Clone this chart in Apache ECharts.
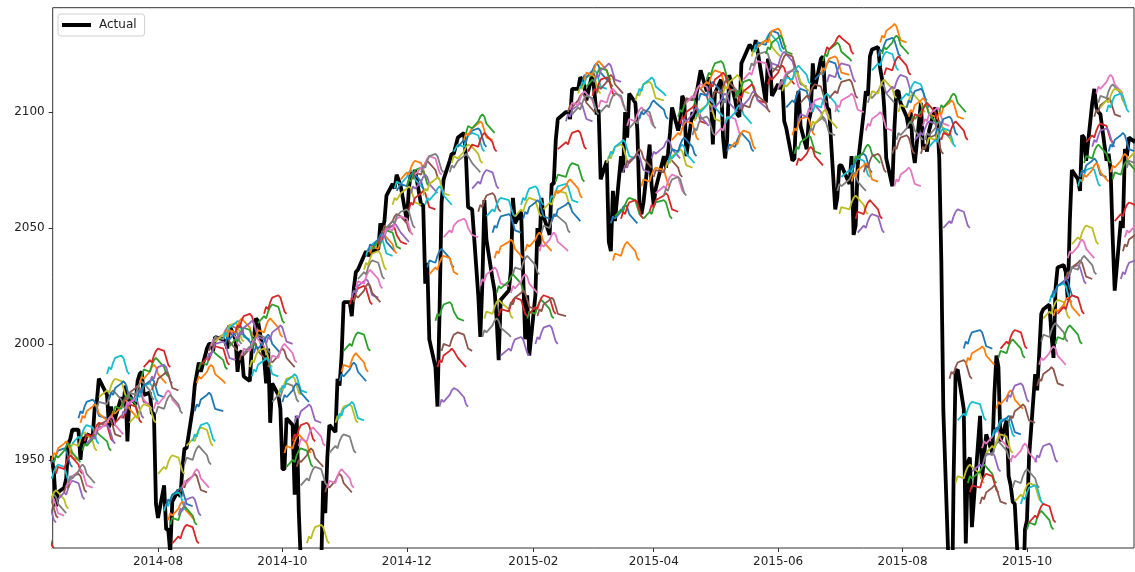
<!DOCTYPE html>
<html>
<head>
<meta charset="utf-8">
<script src="https://cdn.jsdelivr.net/npm/echarts@6/dist/echarts.min.js"></script>
<style>
  html, body { margin: 0; padding: 0; background: #fff; }
  #chart { width: 1135px; height: 572px; }
</style>
</head>
<body>
<div id="chart"></div>
<script>
// Trading days per month (day of month), in order
const tradingDays = {
  '2014-05': [23,27,28,29,30],
  '2014-06': [2,3,4,5,6,9,10,11,12,13,16,17,18,19,20,23,24,25,26,27,30],
  '2014-07': [1,2,3,7,8,9,10,11,14,15,16,17,18,21,22,23,24,25,28,29,30,31],
  '2014-08': [1,4,5,6,7,8,11,12,13,14,15,18,19,20,21,22,25,26,27,28,29],
  '2014-09': [2,3,4,5,8,9,10,11,12,15,16,17,18,19,22,23,24,25,26,29,30],
  '2014-10': [1,2,3,6,7,8,9,10,13,14,15,16,17,20,21,22,23,24,27,28,29,30,31],
  '2014-11': [3,4,5,6,7,10,11,12,13,14,17,18,19,20,21,24,25,26,28],
  '2014-12': [1,2,3,4,5,8,9,10,11,12,15,16,17,18,19,22,23,24,26,29,30,31],
  '2015-01': [2,5,6,7,8,9,12,13,14,15,16,20,21,22,23,26,27,28,29,30],
  '2015-02': [2,3,4,5,6,9,10,11,12,13,17,18,19,20,23,24,25,26,27],
  '2015-03': [2,3,4,5,6,9,10,11,12,13,16,17,18,19,20,23,24,25,26,27,30,31],
  '2015-04': [1,2,6,7,8,9,10,13,14,15,16,17,20,21,22,23,24,27,28,29,30],
  '2015-05': [1,4,5,6,7,8,11,12,13,14,15,18,19,20,21,22,26,27,28,29],
  '2015-06': [1,2,3,4,5,8,9,10,11,12,15,16,17,18,19,22,23,24,25,26,29,30],
  '2015-07': [1,2,6,7,8,9,10,13,14,15,16,17,20,21,22,23,24,27,28,29,30,31],
  '2015-08': [3,4,5,6,7,10,11,12,13,14,17,18,19,20,21,24,25,26,27,28,31],
  '2015-09': [1,2,3,4,8,9,10,11,14,15,16,17,18,21,22,23,24,25,28,29,30],
  '2015-10': [1,2,5,6,7,8,9,12,13,14,15,16,19,20,21,22,23,26,27,28,29,30],
  '2015-11': [2,3,4,5,6,9,10,11,12,13,16,17,18,19,20,23,24,25,27,30],
  '2015-12': [1,2,3,4,7,8]
};

// Actual closing level, one value per trading day above
const actualClose = [
  1901,1912,1910,1920,1924,
  1925,1924,1928,1940,1949,1951,1951,1944,1930,1936,1938,1942,1957,1959,1963,1963,1950,1960,1957,1961,1960,
  1973,1975,1985,1978,1964,1973,1965,1968,1977,1973,1982,1958,1978,1974,1984,1987,1988,1978,1979,1970,1970,1931,
  1925,1939,1920,1920,1910,1932,1937,1934,1947,1955,1955,1972,1982,1987,1992,1988,1998,2000,2000,1997,2003,
  2002,2001,1998,2008,2002,1988,1996,1997,1986,1984,1999,2002,2011,2010,1994,1983,1998,1966,1983,1978,1972,
  1946,1946,1968,1965,1935,1969,1928,1906,1875,1878,1862,1863,1887,1904,1941,1927,1951,1965,1962,1985,1982,1995,2018,
  2018,2012,2024,2031,2032,2038,2040,2038,2039,2040,2041,2052,2049,2053,2064,2069,2067,2073,2068,
  2053,2067,2074,2072,2075,2060,2060,2026,2035,2002,1990,1973,2013,2061,2071,2079,2082,2082,2089,2091,2080,2059,
  2058,2021,2003,2026,2062,2045,2028,2023,2011,1993,2019,2023,2032,2063,2052,2057,2030,2002,2021,1995,
  2021,2050,2042,2063,2055,2047,2069,2069,2088,2097,2100,2100,2097,2110,2110,2115,2114,2111,2105,
  2117,2108,2099,2101,2071,2079,2044,2040,2066,2053,2081,2074,2100,2089,2108,2104,2092,2061,2056,2061,2086,2068,
  2060,2067,2081,2076,2082,2091,2102,2092,2096,2107,2105,2081,2100,2097,2108,2113,2118,2109,2115,2107,2086,
  2108,2114,2089,2080,2088,2116,2105,2099,2098,2121,2123,2129,2128,2126,2131,2126,2104,2123,2121,2107,
  2112,2110,2114,2096,2093,2079,2080,2105,2109,2094,2084,2096,2100,2121,2110,2123,2124,2109,2102,2101,2058,2063,
  2077,2077,2069,2081,2047,2051,2077,2100,2109,2107,2124,2127,2128,2119,2114,2102,2080,2068,2093,2109,2109,2104,
  2098,2093,2100,2084,2078,2104,2084,2086,2083,2092,2102,2097,2080,2036,1971,1893,1868,1941,1988,1989,1972,
  1914,1949,1951,1921,1969,1942,1952,1961,1953,1978,1995,1990,1958,1967,1943,1939,1932,1931,1882,1884,1920,
  1924,1951,1987,1980,1996,2013,2015,2017,2004,1994,2024,2033,2034,2031,2019,2053,2075,2071,2066,2090,2089,2079,
  2104,2110,2102,2100,2099,2079,2082,2075,2046,2023,2053,2050,2084,2081,2089,2087,2089,2089,2090,2080,
  2103,2080,2050,2092,2077,2064
];

// Ten-day forecast paths; the k-th path starts on the k-th trading day
const forecasts = [
  // 2014-05
  [1893,1896,1895,1898,1900,1901,1900,1897,1894,1893],
  [1901,1904,1903,1906,1908,1909,1908,1905,1902,1901],
  [1911,1914,1913,1916,1918,1919,1918,1915,1912,1911],
  [1912,1915,1914,1917,1919,1920,1919,1916,1913,1912],
  [1923,1926,1925,1928,1930,1931,1930,1927,1924,1923],
  // 2014-06
  [1925,1928,1927,1930,1932,1933,1932,1929,1926,1925],
  [1926,1929,1928,1931,1933,1934,1933,1930,1927,1926],
  [1927,1930,1929,1932,1934,1935,1934,1931,1928,1927],
  [1929,1932,1931,1934,1936,1937,1936,1933,1930,1929],
  [1940,1943,1942,1945,1947,1948,1947,1944,1941,1940],
  [1947,1950,1949,1952,1954,1955,1954,1951,1948,1947],
  [1950,1953,1952,1955,1957,1958,1957,1954,1951,1950],
  [1949,1952,1951,1954,1956,1957,1956,1953,1950,1949],
  [1944,1947,1946,1949,1951,1952,1951,1948,1945,1944],
  [1933,1936,1935,1938,1940,1941,1940,1937,1934,1933],
  [1936,1939,1938,1941,1943,1944,1943,1940,1937,1936],
  [1938,1941,1940,1943,1945,1946,1945,1942,1939,1938],
  [1940,1943,1942,1945,1947,1948,1947,1944,1941,1940],
  [1954,1957,1956,1959,1961,1962,1961,1958,1955,1954],
  [1957,1960,1959,1962,1964,1965,1964,1961,1958,1957],
  [1968,1971,1970,1973,1975,1976,1975,1972,1969,1968],
  [1966,1969,1968,1971,1973,1974,1973,1970,1967,1966],
  [1954,1957,1956,1959,1961,1962,1961,1958,1955,1954],
  [1958,1961,1960,1963,1965,1966,1965,1962,1959,1958],
  [1957,1960,1959,1962,1964,1965,1964,1961,1958,1957],
  [1960,1963,1962,1965,1967,1968,1967,1964,1961,1960],
  // 2014-07
  [1961,1964,1963,1966,1968,1969,1968,1965,1962,1961],
  [1972,1975,1974,1977,1979,1980,1979,1976,1973,1972],
  [1977,1980,1979,1982,1984,1985,1984,1981,1978,1977],
  [1987,1990,1989,1992,1994,1995,1994,1991,1988,1987],
  [1976,1979,1978,1981,1983,1984,1983,1980,1977,1976],
  [1968,1971,1970,1973,1975,1976,1975,1972,1969,1968],
  [1970,1973,1972,1975,1977,1978,1977,1974,1971,1970],
  [1966,1969,1968,1971,1973,1974,1973,1970,1967,1966],
  [1968,1971,1970,1973,1975,1976,1975,1972,1969,1968],
  [1974,1977,1976,1979,1981,1982,1981,1978,1975,1974],
  [1972,1975,1974,1977,1979,1980,1979,1976,1973,1972],
  [1976,1979,1978,1981,1983,1984,1983,1980,1977,1976],
  [1966,1969,1968,1971,1973,1974,1973,1970,1967,1966],
  [1975,1978,1977,1980,1982,1983,1982,1979,1976,1975],
  [1977,1980,1979,1982,1984,1985,1984,1981,1978,1977],
  [1983,1986,1985,1988,1990,1991,1990,1987,1984,1983],
  [1986,1989,1988,1991,1993,1994,1993,1990,1987,1986],
  [1990,1993,1992,1995,1997,1998,1997,1994,1991,1990],
  [1983,1986,1985,1988,1990,1991,1990,1987,1984,1983],
  [1980,1983,1982,1985,1987,1988,1987,1984,1981,1980],
  [1972,1975,1974,1977,1979,1980,1979,1976,1973,1972],
  [1970,1973,1972,1975,1977,1978,1977,1974,1971,1970],
  // 2014-08
  [1944,1947,1946,1949,1951,1952,1951,1948,1945,1944],
  [1928,1931,1930,1933,1935,1936,1935,1932,1929,1928],
  [1930,1933,1932,1935,1937,1938,1937,1934,1931,1930],
  [1924,1927,1926,1929,1931,1932,1931,1928,1925,1924],
  [1922,1925,1924,1927,1929,1930,1929,1926,1923,1922],
  [1914,1917,1916,1919,1921,1922,1921,1918,1915,1914],
  [1926,1929,1928,1931,1933,1934,1933,1930,1927,1926],
  [1936,1939,1938,1941,1943,1944,1943,1940,1937,1936],
  [1938,1941,1940,1943,1945,1946,1945,1942,1939,1938],
  [1948,1951,1950,1953,1955,1956,1955,1952,1949,1948],
  [1956,1959,1958,1961,1963,1964,1963,1960,1957,1956],
  [1958,1961,1960,1963,1965,1966,1965,1962,1959,1958],
  [1971,1974,1973,1976,1978,1979,1978,1975,1972,1971],
  [1983,1986,1985,1988,1990,1991,1990,1987,1984,1983],
  [1989,1992,1991,1994,1996,1997,1996,1993,1990,1989],
  [1991,1994,1993,1996,1998,1999,1998,1995,1992,1991],
  [1993,1996,1995,1998,2000,2001,2000,1997,1994,1993],
  [1997,2000,1999,2002,2004,2005,2004,2001,1998,1997],
  [1999,2002,2001,2004,2006,2007,2006,2003,2000,1999],
  [2000,2003,2002,2005,2007,2008,2007,2004,2001,2000],
  [2001,2004,2003,2006,2008,2009,2008,2005,2002,2001],
  // 2014-09
  [2002,2005,2004,2007,2009,2010,2009,2006,2003,2002],
  [2000,2003,2002,2005,2007,2008,2007,2004,2001,2000],
  [2003,2006,2005,2008,2010,2011,2010,2007,2004,2003],
  [1999,2002,2001,2004,2006,2007,2006,2003,2000,1999],
  [2005,2008,2007,2010,2012,2013,2012,2009,2006,2005],
  [2002,2005,2004,2007,2009,2010,2009,2006,2003,2002],
  [1993,1996,1995,1998,2000,2001,2000,1997,1994,1993],
  [1995,1998,1997,2000,2002,2003,2002,1999,1996,1995],
  [1996,1999,1998,2001,2003,2004,2003,2000,1997,1996],
  [1990,1993,1992,1995,1997,1998,1997,1994,1991,1990],
  [1986,1989,1988,1991,1993,1994,1993,1990,1987,1986],
  [1996,1999,1998,2001,2003,2004,2003,2000,1997,1996],
  [2003,2006,2005,2008,2010,2011,2010,2007,2004,2003],
  [2009,2012,2011,2014,2016,2017,2016,2013,2010,2009],
  [2013,2016,2015,2018,2020,2021,2020,2017,2014,2013],
  [2000,2003,2002,2005,2007,2008,2007,2004,2001,2000],
  [1990,1993,1992,1995,1997,1998,1997,1994,1991,1990],
  [1992,1995,1994,1997,1999,2000,1999,1996,1993,1992],
  [1975,1978,1977,1980,1982,1983,1982,1979,1976,1975],
  [1978,1981,1980,1983,1985,1986,1985,1982,1979,1978],
  [1979,1982,1981,1984,1986,1987,1986,1983,1980,1979],
  // 2014-10
  [1975,1978,1977,1980,1982,1983,1982,1979,1976,1975],
  [1953,1956,1955,1958,1960,1961,1960,1957,1954,1953],
  [1947,1950,1949,1952,1954,1955,1954,1951,1948,1947],
  [1958,1961,1960,1963,1965,1966,1965,1962,1959,1958],
  [1966,1969,1968,1971,1973,1974,1973,1970,1967,1966],
  [1947,1950,1949,1952,1954,1955,1954,1951,1948,1947],
  [1956,1959,1958,1961,1963,1964,1963,1960,1957,1956],
  [1939,1942,1941,1944,1946,1947,1946,1943,1940,1939],
  [1914,1917,1916,1919,1921,1922,1921,1918,1915,1914],
  [1888,1891,1890,1893,1895,1896,1895,1892,1889,1888],
  [1880,1883,1882,1885,1887,1888,1887,1884,1881,1880],
  [1870,1873,1872,1875,1877,1878,1877,1874,1871,1870],
  [1866,1869,1868,1871,1873,1874,1873,1870,1867,1866],
  [1880,1883,1882,1885,1887,1888,1887,1884,1881,1880],
  [1898,1901,1900,1903,1905,1906,1905,1902,1899,1898],
  [1936,1939,1938,1941,1943,1944,1943,1940,1937,1936],
  [1938,1941,1940,1943,1945,1946,1945,1942,1939,1938],
  [1953,1956,1955,1958,1960,1961,1960,1957,1954,1953],
  [1966,1969,1968,1971,1973,1974,1973,1970,1967,1966],
  [1967,1970,1969,1972,1974,1975,1974,1971,1968,1967],
  [1984,1987,1986,1989,1991,1992,1991,1988,1985,1984],
  [1988,1991,1990,1993,1995,1996,1995,1992,1989,1988],
  [1997,2000,1999,2002,2004,2005,2004,2001,1998,1997],
  // 2014-11
  [2017,2020,2019,2022,2024,2025,2024,2021,2018,2017],
  [2020,2023,2022,2025,2027,2028,2027,2024,2021,2020],
  [2018,2021,2020,2023,2025,2026,2025,2022,2019,2018],
  [2024,2027,2026,2029,2031,2032,2031,2028,2025,2024],
  [2028,2031,2030,2033,2035,2036,2035,2032,2029,2028],
  [2032,2035,2034,2037,2039,2040,2039,2036,2033,2032],
  [2038,2041,2040,2043,2045,2046,2045,2042,2039,2038],
  [2040,2043,2042,2045,2047,2048,2047,2044,2041,2040],
  [2039,2042,2041,2044,2046,2047,2046,2043,2040,2039],
  [2041,2044,2043,2046,2048,2049,2048,2045,2042,2041],
  [2043,2046,2045,2048,2050,2051,2050,2047,2044,2043],
  [2044,2047,2046,2049,2051,2052,2051,2048,2045,2044],
  [2048,2051,2050,2053,2055,2056,2055,2052,2049,2048],
  [2047,2050,2049,2052,2054,2055,2054,2051,2048,2047],
  [2050,2053,2052,2055,2057,2058,2057,2054,2051,2050],
  [2060,2063,2062,2065,2067,2068,2067,2064,2061,2060],
  [2067,2070,2069,2072,2074,2075,2074,2071,2068,2067],
  [2066,2069,2068,2071,2073,2074,2073,2070,2067,2066],
  [2071,2074,2073,2076,2078,2079,2078,2075,2072,2071],
  // 2014-12
  [2068,2071,2070,2073,2075,2076,2075,2072,2069,2068],
  [2058,2061,2060,2063,2065,2066,2065,2062,2059,2058],
  [2065,2068,2067,2070,2072,2073,2072,2069,2066,2065],
  [2071,2074,2073,2076,2078,2079,2078,2075,2072,2071],
  [2073,2076,2075,2078,2080,2081,2080,2077,2074,2073],
  [2074,2077,2076,2079,2081,2082,2081,2078,2075,2074],
  [2064,2067,2066,2069,2071,2072,2071,2068,2065,2064],
  [2060,2063,2062,2065,2067,2068,2067,2064,2061,2060],
  [2033,2036,2035,2038,2040,2041,2040,2037,2034,2033],
  [2030,2033,2032,2035,2037,2038,2037,2034,2031,2030],
  [2010,2013,2012,2015,2017,2018,2017,2014,2011,2010],
  [1990,1993,1992,1995,1997,1998,1997,1994,1991,1990],
  [1973,1976,1975,1978,1980,1981,1980,1977,1974,1973],
  [1997,2000,1999,2002,2004,2005,2004,2001,1998,1997],
  [2046,2049,2048,2051,2053,2054,2053,2050,2047,2046],
  [2074,2077,2076,2079,2081,2082,2081,2078,2075,2074],
  [2078,2081,2080,2083,2085,2086,2085,2082,2079,2078],
  [2083,2086,2085,2088,2090,2091,2090,2087,2084,2083],
  [2085,2088,2087,2090,2092,2093,2092,2089,2086,2085],
  [2088,2091,2090,2093,2095,2096,2095,2092,2089,2088],
  [2091,2094,2093,2096,2098,2099,2098,2095,2092,2091],
  [2083,2086,2085,2088,2090,2091,2090,2087,2084,2083],
  // 2015-01
  [2067,2070,2069,2072,2074,2075,2074,2071,2068,2067],
  [2057,2060,2059,2062,2064,2065,2064,2061,2058,2057],
  [2025,2028,2027,2030,2032,2033,2032,2029,2026,2025],
  [2003,2006,2005,2008,2010,2011,2010,2007,2004,2003],
  [2011,2014,2013,2016,2018,2019,2018,2015,2012,2011],
  [2055,2058,2057,2060,2062,2063,2062,2059,2056,2055],
  [2048,2051,2050,2053,2055,2056,2055,2052,2049,2048],
  [2037,2040,2039,2042,2044,2045,2044,2041,2038,2037],
  [2022,2025,2024,2027,2029,2030,2029,2026,2023,2022],
  [2012,2015,2014,2017,2019,2020,2019,2016,2013,2012],
  [1995,1998,1997,2000,2002,2003,2002,1999,1996,1995],
  [2015,2018,2017,2020,2022,2023,2022,2019,2016,2015],
  [2022,2025,2024,2027,2029,2030,2029,2026,2023,2022],
  [2030,2033,2032,2035,2037,2038,2037,2034,2031,2030],
  [2055,2058,2057,2060,2062,2063,2062,2059,2056,2055],
  [2060,2063,2062,2065,2067,2068,2067,2064,2061,2060],
  [2054,2057,2056,2059,2061,2062,2061,2058,2055,2054],
  [2040,2043,2042,2045,2047,2048,2047,2044,2041,2040],
  [2011,2014,2013,2016,2018,2019,2018,2015,2012,2011],
  [2013,2016,2015,2018,2020,2021,2020,2017,2014,2013],
  // 2015-02
  [2000,2003,2002,2005,2007,2008,2007,2004,2001,2000],
  [2012,2015,2014,2017,2019,2020,2019,2016,2013,2012],
  [2040,2043,2042,2045,2047,2048,2047,2044,2041,2040],
  [2048,2051,2050,2053,2055,2056,2055,2052,2049,2048],
  [2058,2061,2060,2063,2065,2066,2065,2062,2059,2058],
  [2061,2064,2063,2066,2068,2069,2068,2065,2062,2061],
  [2053,2056,2055,2058,2060,2061,2060,2057,2054,2053],
  [2063,2066,2065,2068,2070,2071,2070,2067,2064,2063],
  [2070,2073,2072,2075,2077,2078,2077,2074,2071,2070],
  [2084,2087,2086,2089,2091,2092,2091,2088,2085,2084],
  [2096,2099,2098,2101,2103,2104,2103,2100,2097,2096],
  [2100,2103,2102,2105,2107,2108,2107,2104,2101,2100],
  [2101,2104,2103,2106,2108,2109,2108,2105,2102,2101],
  [2099,2102,2101,2104,2106,2107,2106,2103,2100,2099],
  [2108,2111,2110,2113,2115,2116,2115,2112,2109,2108],
  [2110,2113,2112,2115,2117,2118,2117,2114,2111,2110],
  [2113,2116,2115,2118,2120,2121,2120,2117,2114,2113],
  [2114,2117,2116,2119,2121,2122,2121,2118,2115,2114],
  [2111,2114,2113,2116,2118,2119,2118,2115,2112,2111],
  // 2015-03
  [2107,2110,2109,2112,2114,2115,2114,2111,2108,2107],
  [2113,2116,2115,2118,2120,2121,2120,2117,2114,2113],
  [2108,2111,2110,2113,2115,2116,2115,2112,2109,2108],
  [2102,2105,2104,2107,2109,2110,2109,2106,2103,2102],
  [2100,2103,2102,2105,2107,2108,2107,2104,2101,2100],
  [2078,2081,2080,2083,2085,2086,2085,2082,2079,2078],
  [2080,2083,2082,2085,2087,2088,2087,2084,2081,2080],
  [2052,2055,2054,2057,2059,2060,2059,2056,2053,2052],
  [2036,2039,2038,2041,2043,2044,2043,2040,2037,2036],
  [2055,2058,2057,2060,2062,2063,2062,2059,2056,2055],
  [2054,2057,2056,2059,2061,2062,2061,2058,2055,2054],
  [2074,2077,2076,2079,2081,2082,2081,2078,2075,2074],
  [2076,2079,2078,2081,2083,2084,2083,2080,2077,2076],
  [2094,2097,2096,2099,2101,2102,2101,2098,2095,2094],
  [2093,2096,2095,2098,2100,2101,2100,2097,2094,2093],
  [2105,2108,2107,2110,2112,2113,2112,2109,2106,2105],
  [2107,2110,2109,2112,2114,2115,2114,2111,2108,2107],
  [2097,2100,2099,2102,2104,2105,2104,2101,2098,2097],
  [2068,2071,2070,2073,2075,2076,2075,2072,2069,2068],
  [2054,2057,2056,2059,2061,2062,2061,2058,2055,2054],
  [2057,2060,2059,2062,2064,2065,2064,2061,2058,2057],
  [2080,2083,2082,2085,2087,2088,2087,2084,2081,2080],
  // 2015-04
  [2072,2075,2074,2077,2079,2080,2079,2076,2073,2072],
  [2065,2068,2067,2070,2072,2073,2072,2069,2066,2065],
  [2064,2067,2066,2069,2071,2072,2071,2068,2065,2064],
  [2076,2079,2078,2081,2083,2084,2083,2080,2077,2076],
  [2078,2081,2080,2083,2085,2086,2085,2082,2079,2078],
  [2081,2084,2083,2086,2088,2089,2088,2085,2082,2081],
  [2088,2091,2090,2093,2095,2096,2095,2092,2089,2088],
  [2098,2101,2100,2103,2105,2106,2105,2102,2099,2098],
  [2095,2098,2097,2100,2102,2103,2102,2099,2096,2095],
  [2094,2097,2096,2099,2101,2102,2101,2098,2095,2094],
  [2103,2106,2105,2108,2110,2111,2110,2107,2104,2103],
  [2104,2107,2106,2109,2111,2112,2111,2108,2105,2104],
  [2090,2093,2092,2095,2097,2098,2097,2094,2091,2090],
  [2096,2099,2098,2101,2103,2104,2103,2100,2097,2096],
  [2098,2101,2100,2103,2105,2106,2105,2102,2099,2098],
  [2105,2108,2107,2110,2112,2113,2112,2109,2106,2105],
  [2110,2113,2112,2115,2117,2118,2117,2114,2111,2110],
  [2114,2117,2116,2119,2121,2122,2121,2118,2115,2114],
  [2109,2112,2111,2114,2116,2117,2116,2113,2110,2109],
  [2100,2103,2102,2105,2107,2108,2107,2104,2101,2100],
  [2106,2109,2108,2111,2113,2114,2113,2110,2107,2106],
  // 2015-05
  [2090,2093,2092,2095,2097,2098,2097,2094,2091,2090],
  [2102,2105,2104,2107,2109,2110,2109,2106,2103,2102],
  [2108,2111,2110,2113,2115,2116,2115,2112,2109,2108],
  [2095,2098,2097,2100,2102,2103,2102,2099,2096,2095],
  [2083,2086,2085,2088,2090,2091,2090,2087,2084,2083],
  [2084,2087,2086,2089,2091,2092,2091,2088,2085,2084],
  [2106,2109,2108,2111,2113,2114,2113,2110,2107,2106],
  [2104,2107,2106,2109,2111,2112,2111,2108,2105,2104],
  [2101,2104,2103,2106,2108,2109,2108,2105,2102,2101],
  [2100,2103,2102,2105,2107,2108,2107,2104,2101,2100],
  [2114,2117,2116,2119,2121,2122,2121,2118,2115,2114],
  [2118,2121,2120,2123,2125,2126,2125,2122,2119,2118],
  [2124,2127,2126,2129,2131,2132,2131,2128,2125,2124],
  [2126,2129,2128,2131,2133,2134,2133,2130,2127,2126],
  [2127,2130,2129,2132,2134,2135,2134,2131,2128,2127],
  [2128,2131,2130,2133,2135,2136,2135,2132,2129,2128],
  [2125,2128,2127,2130,2132,2133,2132,2129,2126,2125],
  [2112,2115,2114,2117,2119,2120,2119,2116,2113,2112],
  [2118,2121,2120,2123,2125,2126,2125,2122,2119,2118],
  [2117,2120,2119,2122,2124,2125,2124,2121,2118,2117],
  // 2015-06
  [2110,2113,2112,2115,2117,2118,2117,2114,2111,2110],
  [2111,2114,2113,2116,2118,2119,2118,2115,2112,2111],
  [2109,2112,2111,2114,2116,2117,2116,2113,2110,2109],
  [2112,2115,2114,2117,2119,2120,2119,2116,2113,2112],
  [2102,2105,2104,2107,2109,2110,2109,2106,2103,2102],
  [2090,2093,2092,2095,2097,2098,2097,2094,2091,2090],
  [2082,2085,2084,2087,2089,2090,2089,2086,2083,2082],
  [2077,2080,2079,2082,2084,2085,2084,2081,2078,2077],
  [2096,2099,2098,2101,2103,2104,2103,2100,2097,2096],
  [2104,2107,2106,2109,2111,2112,2111,2108,2105,2104],
  [2098,2101,2100,2103,2105,2106,2105,2102,2099,2098],
  [2090,2093,2092,2095,2097,2098,2097,2094,2091,2090],
  [2093,2096,2095,2098,2100,2101,2100,2097,2094,2093],
  [2100,2103,2102,2105,2107,2108,2107,2104,2101,2100],
  [2114,2117,2116,2119,2121,2122,2121,2118,2115,2114],
  [2116,2119,2118,2121,2123,2124,2123,2120,2117,2116],
  [2122,2125,2124,2127,2129,2130,2129,2126,2123,2122],
  [2125,2128,2127,2130,2132,2133,2132,2129,2126,2125],
  [2113,2116,2115,2118,2120,2121,2120,2117,2114,2113],
  [2106,2109,2108,2111,2113,2114,2113,2110,2107,2106],
  [2100,2103,2102,2105,2107,2108,2107,2104,2101,2100],
  [2066,2069,2068,2071,2073,2074,2073,2070,2067,2066],
  // 2015-07
  [2056,2059,2058,2061,2063,2064,2063,2060,2057,2056],
  [2072,2075,2074,2077,2079,2080,2079,2076,2073,2072],
  [2074,2077,2076,2079,2081,2082,2081,2078,2075,2074],
  [2070,2073,2072,2075,2077,2078,2077,2074,2071,2070],
  [2078,2081,2080,2083,2085,2086,2085,2082,2079,2078],
  [2054,2057,2056,2059,2061,2062,2061,2058,2055,2054],
  [2048,2051,2050,2053,2055,2056,2055,2052,2049,2048],
  [2074,2077,2076,2079,2081,2082,2081,2078,2075,2074],
  [2092,2095,2094,2097,2099,2100,2099,2096,2093,2092],
  [2104,2107,2106,2109,2111,2112,2111,2108,2105,2104],
  [2106,2109,2108,2111,2113,2114,2113,2110,2107,2106],
  [2118,2121,2120,2123,2125,2126,2125,2122,2119,2118],
  [2124,2127,2126,2129,2131,2132,2131,2128,2125,2124],
  [2130,2133,2132,2135,2137,2138,2137,2134,2131,2130],
  [2125,2128,2127,2130,2132,2133,2132,2129,2126,2125],
  [2116,2119,2118,2121,2123,2124,2123,2120,2117,2116],
  [2108,2111,2110,2113,2115,2116,2115,2112,2109,2108],
  [2082,2085,2084,2087,2089,2090,2089,2086,2083,2082],
  [2068,2071,2070,2073,2075,2076,2075,2072,2069,2068],
  [2088,2091,2090,2093,2095,2096,2095,2092,2089,2088],
  [2100,2103,2102,2105,2107,2108,2107,2104,2101,2100],
  [2105,2108,2107,2110,2112,2113,2112,2109,2106,2105],
  // 2015-08
  [2102,2105,2104,2107,2109,2110,2109,2106,2103,2102],
  [2098,2101,2100,2103,2105,2106,2105,2102,2099,2098],
  [2095,2098,2097,2100,2102,2103,2102,2099,2096,2095],
  [2096,2099,2098,2101,2103,2104,2103,2100,2097,2096],
  [2088,2091,2090,2093,2095,2096,2095,2092,2089,2088],
  [2082,2085,2084,2087,2089,2090,2089,2086,2083,2082],
  [2094,2097,2096,2099,2101,2102,2101,2098,2095,2094],
  [2088,2091,2090,2093,2095,2096,2095,2092,2089,2088],
  [2086,2089,2088,2091,2093,2094,2093,2090,2087,2086],
  [2085,2088,2087,2090,2092,2093,2092,2089,2086,2085],
  [2090,2093,2092,2095,2097,2098,2097,2094,2091,2090],
  [2097,2100,2099,2102,2104,2105,2104,2101,2098,2097],
  [2100,2103,2102,2105,2107,2108,2107,2104,2101,2100],
  [2088,2091,2090,2093,2095,2096,2095,2092,2089,2088],
  [2050,2053,2052,2055,2057,2058,2057,2054,2051,2050],
  [1985,1988,1987,1990,1992,1993,1992,1989,1986,1985],
  [1900,1903,1902,1905,1907,1908,1907,1904,1901,1900],
  [1880,1883,1882,1885,1887,1888,1887,1884,1881,1880],
  [1940,1943,1942,1945,1947,1948,1947,1944,1941,1940],
  [1967,1970,1969,1972,1974,1975,1974,1971,1968,1967],
  [1998,2001,2000,2003,2005,2006,2005,2002,1999,1998],
  // 2015-09
  [1991,1994,1993,1996,1998,1999,1998,1995,1992,1991],
  [1940,1943,1942,1945,1947,1948,1947,1944,1941,1940],
  [1936,1939,1938,1941,1943,1944,1943,1940,1937,1936],
  [1945,1948,1947,1950,1952,1953,1952,1949,1946,1945],
  [1931,1934,1933,1936,1938,1939,1938,1935,1932,1931],
  [1955,1958,1957,1960,1962,1963,1962,1959,1956,1955],
  [1950,1953,1952,1955,1957,1958,1957,1954,1951,1950],
  [1953,1956,1955,1958,1960,1961,1960,1957,1954,1953],
  [1960,1963,1962,1965,1967,1968,1967,1964,1961,1960],
  [1961,1964,1963,1966,1968,1969,1968,1965,1962,1961],
  [1972,1975,1974,1977,1979,1980,1979,1976,1973,1972],
  [1994,1997,1996,1999,2001,2002,2001,1998,1995,1994],
  [1998,2001,2000,2003,2005,2006,2005,2002,1999,1998],
  [1975,1978,1977,1980,1982,1983,1982,1979,1976,1975],
  [1966,1969,1968,1971,1973,1974,1973,1970,1967,1966],
  [1949,1952,1951,1954,1956,1957,1956,1953,1950,1949],
  [1938,1941,1940,1943,1945,1946,1945,1942,1939,1938],
  [1932,1935,1934,1937,1939,1940,1939,1936,1933,1932],
  [1931,1934,1933,1936,1938,1939,1938,1935,1932,1931],
  [1895,1898,1897,1900,1902,1903,1902,1899,1896,1895],
  [1893,1896,1895,1898,1900,1901,1900,1897,1894,1893],
  // 2015-10
  [1920,1923,1922,1925,1927,1928,1927,1924,1921,1920],
  [1923,1926,1925,1928,1930,1931,1930,1927,1924,1923],
  [1949,1952,1951,1954,1956,1957,1956,1953,1950,1949],
  [1982,1985,1984,1987,1989,1990,1989,1986,1983,1982],
  [1991,1994,1993,1996,1998,1999,1998,1995,1992,1991],
  [2001,2004,2003,2006,2008,2009,2008,2005,2002,2001],
  [2011,2014,2013,2016,2018,2019,2018,2015,2012,2011],
  [2018,2021,2020,2023,2025,2026,2025,2022,2019,2018],
  [2020,2023,2022,2025,2027,2028,2027,2024,2021,2020],
  [2012,2015,2014,2017,2019,2020,2019,2016,2013,2012],
  [2000,2003,2002,2005,2007,2008,2007,2004,2001,2000],
  [2013,2016,2015,2018,2020,2021,2020,2017,2014,2013],
  [2026,2029,2028,2031,2033,2034,2033,2030,2027,2026],
  [2028,2031,2030,2033,2035,2036,2035,2032,2029,2028],
  [2037,2040,2039,2042,2044,2045,2044,2041,2038,2037],
  [2030,2033,2032,2035,2037,2038,2037,2034,2031,2030],
  [2043,2046,2045,2048,2050,2051,2050,2047,2044,2043],
  [2068,2071,2070,2073,2075,2076,2075,2072,2069,2068],
  [2072,2075,2074,2077,2079,2080,2079,2076,2073,2072],
  [2070,2073,2072,2075,2077,2078,2077,2074,2071,2070],
  [2078,2081,2080,2083,2085,2086,2085,2082,2079,2078],
  [2087,2090,2089,2092,2094,2095,2094,2091,2088,2087],
  // 2015-11
  [2085,2088,2087,2090,2092,2093,2092,2089,2086,2085],
  [2098,2101,2100,2103,2105,2106,2105,2102,2099,2098],
  [2108,2111,2110,2113,2115,2116,2115,2112,2109,2108],
  [2104,2107,2106,2109,2111,2112,2111,2108,2105,2104],
  [2102,2105,2104,2107,2109,2110,2109,2106,2103,2102],
  [2100,2103,2102,2105,2107,2108,2107,2104,2101,2100],
  [2083,2086,2085,2088,2090,2091,2090,2087,2084,2083],
  [2074,2077,2076,2079,2081,2082,2081,2078,2075,2074],
  [2071,2074,2073,2076,2078,2079,2078,2075,2072,2071],
  [2053,2056,2055,2058,2060,2061,2060,2057,2054,2053],
  [2028,2031,2030,2033,2035,2036,2035,2032,2029,2028],
  [2040,2043,2042,2045,2047,2048,2047,2044,2041,2040],
  [2046,2049,2048,2051,2053,2054,2053,2050,2047,2046],
  [2076,2079,2078,2081,2083,2084,2083,2080,2077,2076],
  [2080,2083,2082,2085,2087,2088,2087,2084,2081,2080],
  [2086,2089,2088,2091,2093,2094,2093,2090,2087,2086]
];

const xTickLabels = ['2014-08','2014-10','2014-12','2015-02','2015-04','2015-06','2015-08','2015-10'];
const yTickValues = [1950, 2000, 2050, 2100];

// matplotlib default colour cycle
const palette = ['#1f77b4','#ff7f0e','#2ca02c','#d62728','#9467bd','#8c564b','#e377c2','#7f7f7f','#bcbd22','#17becf'];

function pad2(n) { return (n < 10 ? '0' : '') + n; }

// Trading days as millisecond timestamps (local midnight)
const dayTimes = [];
Object.keys(tradingDays).forEach(function (m) {
  const p = m.split('-');
  tradingDays[m].forEach(function (d) { dayTimes.push(new Date(+p[0], +p[1] - 1, d).getTime()); });
});

function monthStart(label) {
  const p = label.split('-');
  return new Date(+p[0], +p[1] - 1, 1).getTime();
}
const xTicks = xTickLabels.map(monthStart);

function monthLabel(v) {
  const d = new Date(v);
  return d.getFullYear() + '-' + pad2(d.getMonth() + 1);
}

const series = [{
  name: 'Actual',
  type: 'line',
  data: dayTimes.map(function (t, i) { return [t, actualClose[i]]; }),
  symbol: 'none',
  showSymbol: false,
  clip: true,
  silent: true,
  z: 2,
  lineStyle: { color: '#000', width: 3.8 },
  itemStyle: { color: '#000' }
}];

forecasts.forEach(function (vals, k) {
  const pts = [];
  vals.forEach(function (v, j) {
    if (k + j < dayTimes.length) pts.push([dayTimes[k + j], v]);
  });
  series.push({
    name: 'f' + k,
    type: 'line',
    data: pts,
    symbol: 'none',
    showSymbol: false,
    clip: true,
    silent: true,
    z: 3,
    lineStyle: { color: palette[k % 10], width: 1.8 },
    itemStyle: { color: palette[k % 10] }
  });
});

const chart = echarts.init(document.getElementById('chart'), null, { renderer: 'canvas' });
chart.setOption({
  animation: false,
  backgroundColor: '#fff',
  textStyle: { fontFamily: 'DejaVu Sans' },
  grid: {
    left: 52.7, right: 1, top: 7.7, bottom: 24,
    show: true, borderColor: '#333', borderWidth: 1, backgroundColor: 'transparent'
  },
  legend: {
    data: ['Actual'],
    left: 58, top: 14,
    icon: 'rect',
    itemWidth: 29, itemHeight: 4,
    padding: [5, 8, 5, 4],
    backgroundColor: '#fff',
    borderColor: '#d0d0d0', borderWidth: 1, borderRadius: 3,
    textStyle: { fontSize: 12, color: '#222', fontFamily: 'DejaVu Sans', padding: [0, 0, 0, 3] }
  },
  xAxis: {
    type: 'value',
    min: new Date(2014, 5, 10, 9).getTime(),
    max: new Date(2015, 10, 22, 11).getTime(),
    axisLine: { show: false },
    splitLine: { show: false },
    axisTick: { show: true, length: 4, lineStyle: { color: '#333', width: 1 }, customValues: xTicks },
    axisLabel: {
      customValues: xTicks,
      margin: 8,
      fontSize: 12, color: '#222', fontFamily: 'DejaVu Sans',
      hideOverlap: false,
      formatter: monthLabel
    }
  },
  yAxis: {
    type: 'value',
    min: 1912, max: 2145,
    axisLine: { show: false },
    splitLine: { show: false },
    axisTick: { show: true, length: 4, lineStyle: { color: '#333', width: 1 }, customValues: yTickValues },
    axisLabel: {
      customValues: yTickValues, margin: 8, fontSize: 12, color: '#222', fontFamily: 'DejaVu Sans',
      formatter: function (v) { return String(v); }
    }
  },
  series: series
});
</script>
</body>
</html>
